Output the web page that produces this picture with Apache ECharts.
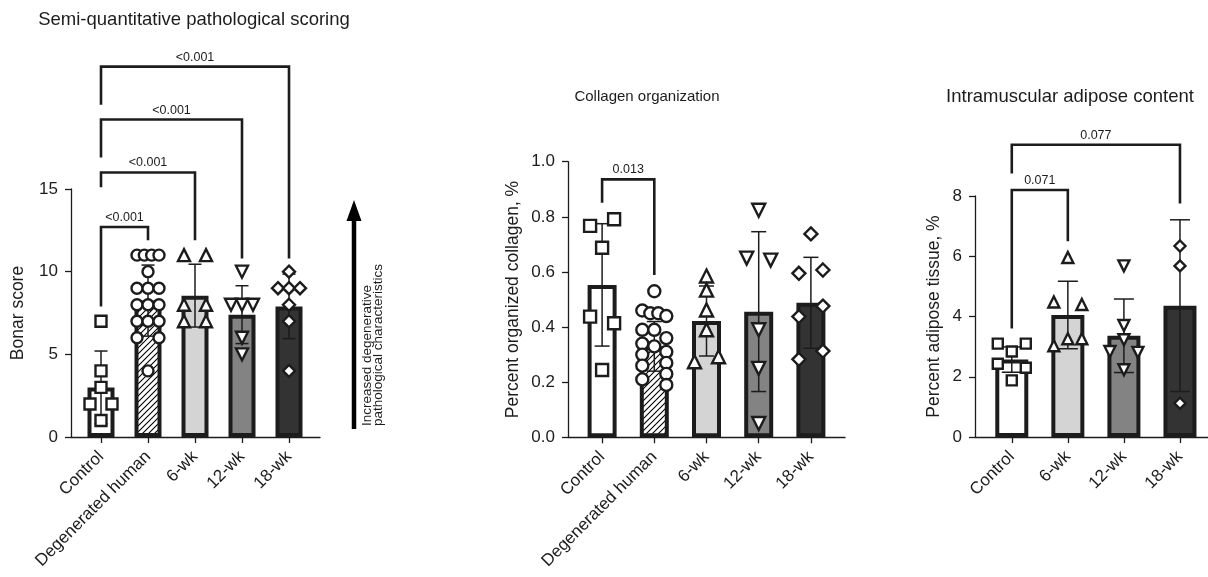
<!DOCTYPE html>
<html><head><meta charset="utf-8">
<script src="https://cdn.jsdelivr.net/npm/echarts@6/dist/echarts.min.js"></script>
<style>html,body{margin:0;padding:0;background:#fff}#c{width:1208px;height:577px}</style>
</head><body><div id="c"></div>
<script>
// ---------------- DATA ----------------
// Panel 1: Semi-quantitative pathological scoring (Bonar score)
const bonarCategories = ['Control', 'Degenerated human', '6-wk', '12-wk', '18-wk'];
const bonarMeans = [3.0, 8.25, 8.55, 7.4, 7.9];
const bonarSD = [2.2, 2.15, 1.9, 1.75, 1.95];
const bonarControl = [7, 4, 3, 2, 2, 1];
const bonarDegenerated = [11, 11, 11, 11, 10, 9, 9, 9, 8, 8, 8, 7, 7, 7, 6, 6, 4];
const bonar6wk = [11, 11, 8, 8, 7, 7];
const bonar12wk = [10, 8, 8, 8, 6, 5];
const bonar18wk = [10, 9, 9, 9, 8, 7, 4];
const bonarTicks = [0, 5, 10, 15];
const bonarPairs = [[0, 4], [0, 3], [0, 2], [0, 1]];
const bonarPValues = ['<0.001', '<0.001', '<0.001', '<0.001'];
const bonarBracketLevels = [[22.4, 20.1, 10.8], [19.2, 16.9, 10.8], [16.0, 15.1, 11.9], [12.7, 7.9, 11.9]];

// Panel 2: Collagen organization
const collagenCategories = ['Control', 'Degenerated human', '6-wk', '12-wk', '18-wk'];
const collagenMeans = [0.553, 0.33, 0.422, 0.456, 0.488];
const collagenSD = [0.222, 0.09, 0.127, 0.29, 0.165];
const collagenControl = [0.767, 0.791, 0.688, 0.438, 0.414, 0.244];
const collagenDegenerated = [0.53, 0.46, 0.45, 0.45, 0.44, 0.39, 0.39, 0.36, 0.34, 0.33, 0.31, 0.30, 0.27, 0.26, 0.23, 0.21, 0.19];
const collagen6wk = [0.585, 0.534, 0.462, 0.39, 0.274, 0.292];
const collagen12wk = [0.824, 0.65, 0.643, 0.39, 0.25, 0.05];
const collagen18wk = [0.738, 0.595, 0.607, 0.438, 0.476, 0.283, 0.313];
const collagenTicks = [0, 0.2, 0.4, 0.6, 0.8, 1.0];
const collagenPairs = [[0, 1]];
const collagenPValues = ['0.013'];
const collagenBracketLevels = [[0.936, 0.851, 0.589]];

// Panel 3: Intramuscular adipose content
const adiposeCategories = ['Control', '6-wk', '12-wk', '18-wk'];
const adiposeMeans = [2.57, 4.05, 3.36, 4.36];
const adiposeSD = [0.42, 1.12, 1.22, 2.85];
const adiposeControl = [3.1, 2.84, 3.1, 2.43, 2.3, 1.88];
const adipose6wk = [5.96, 4.48, 4.4, 3.03, 3.26, 3.26];
const adipose12wk = [5.68, 3.7, 3.23, 2.84, 2.81, 2.23];
const adipose18wk = [6.34, 5.68, 1.12];
const adiposeTicks = [0, 2, 4, 6, 8];
const adiposePairs = [[0, 3], [0, 1]];
const adiposePValues = ['0.077', '0.071'];
const adiposeBracketLevels = [[9.7, 8.75, 7.75], [8.2, 3.6, 6.5]];

// ---------------- STYLE ----------------
const FONT = "'Liberation Sans', Arial, Helvetica, sans-serif";
const INK = '#1c1c1c';
const groupStyle = {
  'Control': { fill: '#ffffff', symbol: 'rect', rot: 0 },
  'Degenerated human': { fill: 'HATCH', symbol: 'circle', rot: 0 },
  '6-wk': { fill: '#d4d4d4', symbol: 'triangle', rot: 0 },
  '12-wk': { fill: '#838383', symbol: 'triangle', rot: 180 },
  '18-wk': { fill: '#333333', symbol: 'diamond', rot: 0 }
};

function hatchPattern() {
  const c = document.createElement('canvas');
  c.width = 6; c.height = 6;
  const g = c.getContext('2d');
  g.fillStyle = '#fff'; g.fillRect(0, 0, 6, 6);
  g.strokeStyle = '#000'; g.lineWidth = 1.1;
  g.beginPath();
  g.moveTo(-1, 7); g.lineTo(7, -1);
  g.moveTo(-1, 1); g.lineTo(1, -1);
  g.moveTo(5, 7); g.lineTo(7, 5);
  g.stroke();
  return { image: c, repeat: 'repeat' };
}
const HATCH = hatchPattern();

// Prism-like row spreading of points with (nearly) equal values
function spread(values, pxPerUnit, rowThresh, span) {
  const order = values.map((v, i) => i).sort((a, b) => values[b] - values[a] || a - b);
  const offs = values.map(() => 0);
  const rows = []; let cur = [];
  order.forEach(i => {
    if (cur.length && (values[cur[0]] - values[i]) * pxPerUnit > rowThresh) { rows.push(cur); cur = []; }
    cur.push(i);
  });
  if (cur.length) rows.push(cur);
  rows.forEach(r => {
    r.sort((a, b) => a - b);
    const n = r.length;
    if (n > 1) r.forEach((i, k) => { offs[i] = -span / 2 + k * span / (n - 1); });
  });
  return offs;
}

const panels = [
  {
    cats: bonarCategories, means: bonarMeans, sd: bonarSD,
    pts: [bonarControl, bonarDegenerated, bonar6wk, bonar12wk, bonar18wk],
    ticks: bonarTicks, pairs: bonarPairs, pvals: bonarPValues, levels: bonarBracketLevels,
    yName: 'Bonar score', dec: 0,
    grid: { left: 77.5, top: 189, width: 235, height: 248 },
    axisX: [71, 320], nameGap: 44, barWidth: 27, sym: 11, cap: 13, rowThresh: 8, span: 22
  },
  {
    cats: collagenCategories, means: collagenMeans, sd: collagenSD,
    pts: [collagenControl, collagenDegenerated, collagen6wk, collagen12wk, collagen18wk],
    ticks: collagenTicks, pairs: collagenPairs, pvals: collagenPValues, levels: collagenBracketLevels,
    yName: 'Percent organized collagen, %', dec: 1,
    grid: { left: 576, top: 161.7, width: 261, height: 275.6 },
    axisX: [568, 845], nameGap: 46, barWidth: 29, sym: 12, cap: 15, rowThresh: 11, span: 24
  },
  {
    cats: adiposeCategories, means: adiposeMeans, sd: adiposeSD,
    pts: [adiposeControl, adipose6wk, adipose12wk, adipose18wk],
    ticks: adiposeTicks, pairs: adiposePairs, pvals: adiposePValues, levels: adiposeBracketLevels,
    yName: 'Percent adipose tissue, %', dec: 0,
    grid: { left: 983.75, top: 196, width: 226, height: 241 },
    axisX: [975, 1208], nameGap: 32, barWidth: 33, sym: 10, cap: 20, rowThresh: 10, span: 28
  }
];

const grid = [], xAxis = [], yAxis = [], series = [];

panels.forEach((p, k) => {
  const gi = grid.length;
  const ymin = p.ticks[0], ymax = p.ticks[p.ticks.length - 1];
  const interval = p.ticks[1] - p.ticks[0];
  const pxPerUnit = p.grid.height / (ymax - ymin);
  grid.push(Object.assign({ containLabel: false }, p.grid));
  // axis-line-only grid (spans from y axis to end of x axis)
  grid.push({ left: p.axisX[0], width: p.axisX[1] - p.axisX[0], top: p.grid.top, height: p.grid.height });

  xAxis.push({
    gridIndex: gi, type: 'category', data: p.cats, boundaryGap: true,
    axisLine: { show: false },
    axisTick: { show: true, alignWithLabel: true, length: 6, lineStyle: { color: INK, width: 1.3 } },
    axisLabel: { interval: 0, rotate: 45, margin: 17, fontSize: 17, color: INK, fontFamily: FONT }
  });
  xAxis.push({
    gridIndex: gi + 1, type: 'value', min: 0, max: 1,
    axisLine: { show: true, onZero: false, lineStyle: { color: INK, width: 1.3 } },
    axisTick: { show: false }, axisLabel: { show: false }, splitLine: { show: false }
  });
  yAxis.push({
    gridIndex: gi, type: 'value', min: ymin, max: ymax, interval: interval,
    offset: p.grid.left - p.axisX[0],
    name: p.yName, nameLocation: 'middle', nameGap: p.nameGap, nameRotate: 90,
    nameTextStyle: { fontSize: 17.5, color: INK, fontFamily: FONT },
    axisLine: { show: true, lineStyle: { color: INK, width: 1.3 } },
    axisTick: { show: true, length: 6, lineStyle: { color: INK, width: 1.3 } },
    axisLabel: { fontSize: 17, color: INK, fontFamily: FONT, margin: 13,
      formatter: v => v.toFixed(p.dec) },
    splitLine: { show: false }
  });
  yAxis.push({ gridIndex: gi + 1, type: 'value', min: 0, max: 1, show: false });

  const xi = xAxis.length - 2, yi = yAxis.length - 2;

  // bars
  series.push({
    type: 'bar', xAxisIndex: xi, yAxisIndex: yi, barWidth: p.barWidth, z: 2, silent: true,
    data: p.means.map((m, i) => {
      const f = groupStyle[p.cats[i]].fill;
      return { value: m, itemStyle: { color: f === 'HATCH' ? HATCH : f, borderColor: INK, borderWidth: 4 } };
    })
  });

  // error bars (mean ± SD)
  const capHalf = p.cap / 2;
  series.push({
    type: 'custom', xAxisIndex: xi, yAxisIndex: yi, z: 3, silent: true,
    encode: { x: 0, y: 1 },
    data: p.means.map((m, i) => [i, m, p.sd[i]]),
    renderItem: (params, api) => {
      const x = api.value(0), m = api.value(1), s = api.value(2);
      const t = api.coord([x, m + s]);
      const b = api.coord([x, Math.max(m - s, ymin)]);
      const st = { stroke: INK, lineWidth: 1.5 };
      return { type: 'group', children: [
        { type: 'line', shape: { x1: t[0], y1: t[1], x2: b[0], y2: b[1] }, style: st },
        { type: 'line', shape: { x1: t[0] - capHalf, y1: t[1], x2: t[0] + capHalf, y2: t[1] }, style: st },
        { type: 'line', shape: { x1: b[0] - capHalf, y1: b[1], x2: b[0] + capHalf, y2: b[1] }, style: st }
      ] };
    }
  });

  // individual points
  const pdata = [];
  p.pts.forEach((vals, i) => {
    const gs = groupStyle[p.cats[i]];
    const offs = spread(vals, pxPerUnit, p.rowThresh, p.span);
    vals.forEach((v, j) => {
      pdata.push({ value: [i, v], symbol: gs.symbol, symbolRotate: gs.rot,
        symbolSize: gs.symbol === 'rect' || gs.symbol === 'circle' ? p.sym : p.sym + 1,
        symbolOffset: [offs[j], 0] });
    });
  });
  series.push({
    type: 'scatter', xAxisIndex: xi, yAxisIndex: yi, z: 4, silent: true,
    itemStyle: { color: '#ffffff', borderColor: INK, borderWidth: 2.4, opacity: 1 },
    data: pdata
  });

  // significance brackets
  series.push({
    type: 'custom', xAxisIndex: xi, yAxisIndex: yi, z: 5, silent: true, clip: false,
    encode: { x: [0, 1], y: [2, 3, 4] },
    data: p.pairs.map((pr, i) => [pr[0], pr[1], p.levels[i][0], p.levels[i][1], p.levels[i][2], i]),
    renderItem: (params, api) => {
      const a = api.coord([api.value(0), api.value(2)]);
      const b = api.coord([api.value(1), api.value(2)]);
      const al = api.coord([api.value(0), api.value(3)]);
      const br = api.coord([api.value(1), api.value(4)]);
      return { type: 'group', children: [
        { type: 'polyline', shape: { points: [[al[0], al[1]], [a[0], a[1]], [b[0], b[1]], [br[0], br[1]]] },
          style: { stroke: INK, lineWidth: 2.6, fill: null } },
        { type: 'text', style: { text: p.pvals[api.value(5)], x: (a[0] + b[0]) / 2, y: a[1] - 3,
          align: 'center', verticalAlign: 'bottom', fontSize: 12.5, fontFamily: FONT, fill: INK } }
      ] };
    }
  });
});

const titleBase = { fontFamily: FONT, fill: INK, align: 'center', verticalAlign: 'middle' };
const graphic = [
  { type: 'text', x: 194, y: 20, style: Object.assign({ text: 'Semi-quantitative pathological scoring', fontSize: 18.5 }, titleBase) },
  { type: 'text', x: 647, y: 97, style: Object.assign({ text: 'Collagen organization', fontSize: 15 }, titleBase) },
  { type: 'text', x: 1070, y: 97, style: Object.assign({ text: 'Intramuscular adipose content', fontSize: 18.5 }, titleBase) },
  // arrow annotation
  { type: 'line', shape: { x1: 354, y1: 429, x2: 354, y2: 216 }, style: { stroke: '#000', lineWidth: 4.5 } },
  { type: 'polygon', shape: { points: [[354, 200], [346.5, 221], [361.5, 221]] }, style: { fill: '#000' } },
  { type: 'text', x: 373, y: 426, rotation: Math.PI / 2,
    style: { text: 'Increased degenerative\npathological characteristics', fontSize: 13.5, lineHeight: 11.5,
      fontFamily: FONT, fill: INK, align: 'left', verticalAlign: 'middle' } }
];

const chart = echarts.init(document.getElementById('c'), null, { renderer: 'canvas' });
chart.setOption({ animation: false, backgroundColor: '#fff', grid, xAxis, yAxis, series, graphic });
</script>
</body></html>
